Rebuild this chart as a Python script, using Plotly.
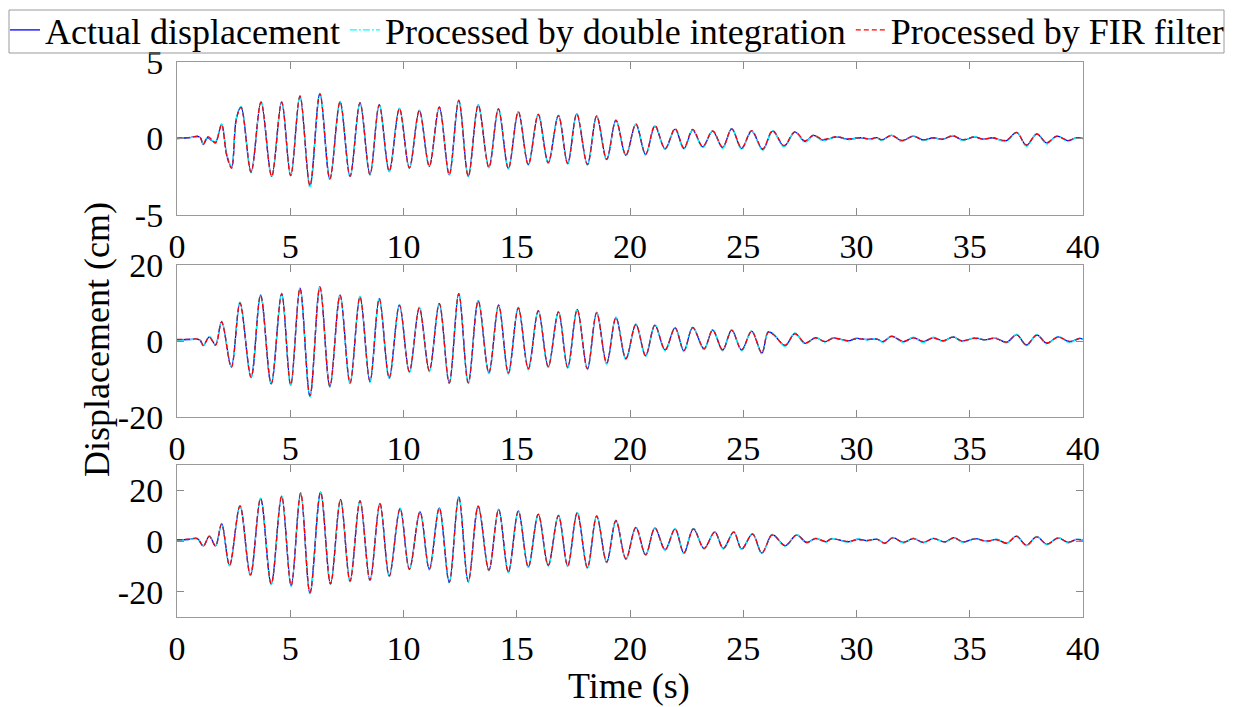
import plotly.graph_objects as go

# ---------------- data ----------------
t1 = [0, 0.5, 1.0, 1.16, 1.35, 1.55, 1.7, 1.97, 2.2, 2.41, 2.62, 2.83, 3.27, 3.71, 4.18, 4.62, 5.02, 5.43,
      5.87, 6.31, 6.75, 7.20, 7.64, 8.08, 8.52, 8.93, 9.37, 9.82, 10.26, 10.70, 11.14, 11.58, 12.02, 12.44,
      12.86, 13.30, 13.77, 14.19, 14.63, 15.07, 15.51, 15.95, 16.39, 16.84, 17.25, 17.65, 18.12, 18.53,
      18.97, 19.38, 19.82, 20.26, 20.69, 21.10, 21.55, 21.99, 22.38, 22.77, 23.21, 23.65, 24.09, 24.49,
      24.93, 25.37, 25.86, 26.30, 26.8, 27.28, 27.73, 28.1, 28.5, 29.12, 29.6, 30.2, 30.6, 30.9, 31.1,
      31.55, 32.0, 32.51, 32.95, 33.4, 33.8, 34.25, 34.7, 35.2, 35.6, 36.0, 36.6, 37.07, 37.5, 37.96,
      38.4, 38.84, 39.35, 39.7, 40]
d1_actual = [0.0, 0.05, 0.1, -0.4, 0.05, -0.15, -0.25, 0.92, -1.1, -1.86, 1.3, 2.06, -2.21, 2.39, -2.48, 2.39,
             -2.43, 2.78, -3.1, 2.94, -2.65, 2.41, -2.48, 2.34, -2.37, 2.21, -2.15, 1.97, -1.93, 1.84, -1.82,
             2.06, -2.37, 2.50, -2.48, 2.19, -1.89, 1.94, -1.97, 1.75, -1.71, 1.58, -1.6, 1.51, -1.64, 1.62,
             -1.71, 1.47, -1.38, 1.18, -1.1, 0.92, -1.05, 0.81, -0.68, 0.61, -0.66, 0.55, -0.55, 0.48, -0.6,
             0.64, -0.66, 0.48, -0.72, 0.48, -0.5, 0.42, -0.2, 0.2, -0.1, 0.1, -0.05, 0.05, -0.05, 0.05, -0.1,
             0.2, -0.15, 0.15, -0.1, 0.05, -0.05, 0.18, -0.1, 0.1, -0.05, 0.05, -0.15, 0.4, -0.45, 0.3, -0.3,
             0.15, -0.15, 0.05, 0.0]
d1_double = [0.0, 0.03, 0.08, -0.35, 0.1, -0.12, -0.2, 0.95, -1.05, -1.8, 1.35, 2.1, -2.25, 2.42, -2.52, 2.4,
             -2.45, 2.8, -3.2, 2.95, -2.7, 2.43, -2.5, 2.35, -2.4, 2.22, -2.18, 1.98, -1.96, 1.85, -1.85,
             2.07, -2.4, 2.52, -2.5, 2.2, -1.92, 1.95, -2.0, 1.76, -1.74, 1.6, -1.63, 1.52, -1.67, 1.63,
             -1.74, 1.48, -1.42, 1.2, -1.14, 0.93, -1.08, 0.82, -0.72, 0.62, -0.7, 0.56, -0.6, 0.5, -0.64,
             0.65, -0.7, 0.5, -0.78, 0.5, -0.55, 0.44, -0.25, 0.22, -0.14, 0.12, -0.08, 0.06, -0.08, 0.06, -0.14,
             0.22, -0.2, 0.17, -0.14, 0.06, -0.08, 0.2, -0.14, 0.12, -0.08, 0.06, -0.2, 0.42, -0.52, 0.32, -0.36,
             0.16, -0.2, 0.06, 0.0]
d1_fir = [0.02, 0.06, 0.12, -0.38, 0.12, -0.1, -0.3, 0.9, -1.15, -1.95, 1.25, 2.04, -2.2, 2.38, -2.46, 2.37,
          -2.42, 2.76, -3.08, 2.92, -2.63, 2.4, -2.46, 2.33, -2.35, 2.2, -2.13, 1.96, -1.92, 1.83, -1.8,
          2.05, -2.35, 2.48, -2.46, 2.18, -1.88, 1.93, -1.95, 1.74, -1.7, 1.57, -1.58, 1.5, -1.62, 1.61,
          -1.7, 1.46, -1.36, 1.2, -1.08, 0.95, -1.02, 0.85, -0.66, 0.64, -0.62, 0.6, -0.52, 0.5, -0.56,
          0.62, -0.62, 0.52, -0.68, 0.52, -0.46, 0.45, -0.15, 0.22, -0.06, 0.12, -0.03, 0.06, -0.03, 0.06, -0.08,
          0.2, -0.12, 0.14, -0.08, 0.05, -0.04, 0.16, -0.08, 0.1, -0.04, 0.05, -0.12, 0.38, -0.42, 0.28, -0.27,
          0.14, -0.12, 0.05, 0.02]

t2 = [0, 0.5, 1.0, 1.16, 1.43, 1.7, 1.97, 2.4, 2.78, 3.27, 3.69, 4.16, 4.62, 5.02, 5.43, 5.87, 6.31, 6.75,
      7.2, 7.64, 8.08, 8.52, 8.93, 9.37, 9.82, 10.26, 10.70, 11.14, 11.58, 12.02, 12.44, 12.86, 13.3,
      13.77, 14.2, 14.63, 15.07, 15.51, 15.95, 16.39, 16.84, 17.25, 17.67, 18.12, 18.53, 18.97, 19.38,
      19.82, 20.26, 20.69, 21.10, 21.55, 21.99, 22.38, 22.77, 23.27, 23.65, 24.09, 24.49, 24.93, 25.37,
      25.82, 26.1, 26.33, 26.85, 27.28, 27.73, 28.2, 28.6, 28.97, 29.27, 29.64, 30.0, 30.45, 30.9, 31.18,
      31.55, 32.07, 32.51, 32.95, 33.39, 33.83, 34.27, 34.64, 35.23, 35.67, 36.11, 36.63, 37.07, 37.5,
      37.96, 38.4, 38.9, 39.4, 39.85, 40]
d2_actual = [0.3, 0.4, 0.3, -1.2, 1.1, -1.0, 5.1, -6.8, 10.1, -9.6, 12.1, -11.3, 12.5, -11.6, 13.9, -14.5,
             14.3, -12.0, 12.1, -11.1, 11.7, -10.7, 11.2, -9.8, 9.5, -8.1, 8.8, -7.9, 9.9, -11.1, 12.5, -11.1,
             10.6, -8.4, 9.5, -8.5, 8.8, -7.4, 8.0, -6.8, 7.7, -7.0, 8.3, -7.4, 7.5, -5.9, 6.2, -4.7, 4.4,
             -3.9, 4.2, -2.4, 3.5, -2.6, 3.6, -2.1, 2.9, -2.4, 2.9, -2.4, 2.6, -3.2, 2.4, 1.8, -1.2, 2.0,
             -0.6, 0.9, -0.2, 0.8, 0.5, 0.0, 0.7, 0.4, 0.5, -0.2, 1.3, -0.2, 0.9, -0.2, 0.9, 0.0, 1.1, 0.0,
             0.8, 0.3, 0.8, -0.35, 1.7, -1.05, 1.6, -0.6, 1.1, -0.2, 0.7, 0.5]
d2_double = [0.2, 0.35, 0.25, -1.1, 1.2, -0.9, 5.2, -6.7, 10.2, -9.7, 12.2, -11.4, 12.6, -11.8, 14.0, -14.8,
             14.4, -12.2, 12.2, -11.3, 11.8, -10.9, 11.3, -10.0, 9.6, -8.3, 8.9, -8.1, 10.0, -11.3, 12.6, -11.3,
             10.7, -8.6, 9.6, -8.7, 8.9, -7.6, 8.1, -7.0, 7.8, -7.2, 8.4, -7.6, 7.6, -6.1, 6.3, -4.9, 4.5,
             -4.1, 4.3, -2.6, 3.6, -2.8, 3.7, -2.3, 3.0, -2.6, 3.0, -2.6, 2.7, -3.4, 2.5, 1.9, -1.4, 2.1,
             -0.8, 1.0, -0.4, 0.9, 0.5, -0.2, 0.8, 0.3, 0.6, -0.4, 1.4, -0.4, 1.0, -0.4, 1.0, -0.2, 1.2, -0.2,
             0.9, 0.2, 0.9, -0.5, 1.8, -1.3, 1.7, -0.8, 1.2, -0.4, 0.8, 0.5]
d2_fir = [0.4, 0.45, 0.35, -1.0, 1.0, -1.1, 5.0, -6.9, 10.0, -9.5, 12.0, -11.2, 12.4, -11.5, 13.8, -14.4,
          14.2, -11.9, 12.0, -11.0, 11.6, -10.6, 11.1, -9.7, 9.4, -8.0, 8.7, -7.8, 9.8, -11.0, 12.4, -11.0,
          10.5, -8.3, 9.4, -8.4, 8.7, -7.3, 7.9, -6.7, 7.6, -6.9, 8.2, -7.3, 7.4, -5.8, 6.1, -4.6, 4.3,
          -3.8, 4.1, -2.3, 3.4, -2.5, 3.5, -2.0, 2.8, -2.3, 2.8, -2.3, 2.5, -3.1, 2.3, 1.7, -1.1, 1.9,
          -0.5, 0.8, -0.1, 0.7, 0.5, 0.1, 0.6, 0.4, 0.5, -0.1, 1.2, -0.1, 0.8, -0.1, 0.8, 0.1, 1.0, 0.1,
          0.7, 0.3, 0.7, -0.3, 1.6, -1.0, 1.5, -0.5, 1.0, -0.1, 0.6, 0.5]

t3 = [0, 0.5, 0.9, 1.16, 1.43, 1.7, 1.97, 2.32, 2.78, 3.24, 3.69, 4.16, 4.62, 5.04, 5.46, 5.87, 6.34, 6.78,
      7.22, 7.64, 8.08, 8.52, 8.96, 9.37, 9.85, 10.26, 10.73, 11.14, 11.58, 12.02, 12.44, 12.86, 13.3,
      13.77, 14.2, 14.63, 15.07, 15.51, 15.95, 16.39, 16.84, 17.25, 17.67, 18.12, 18.53, 18.97, 19.38,
      19.82, 20.26, 20.69, 21.10, 21.55, 21.99, 22.38, 22.8, 23.27, 23.74, 24.12, 24.58, 24.93, 25.41,
      25.82, 26.25, 26.4, 26.85, 27.36, 27.8, 28.2, 28.65, 28.9, 29.64, 30.07, 30.45, 30.9, 31.25, 31.6,
      32.07, 32.51, 32.95, 33.4, 33.9, 34.3, 34.7, 35.23, 35.75, 36.19, 36.63, 37.07, 37.5, 37.96, 38.4,
      38.9, 39.35, 39.7, 40]
d3_actual = [0.4, 0.6, 0.9, -1.9, 1.9, -1.9, 6.8, -9.7, 13.9, -13.5, 16.8, -17.0, 17.7, -17.7, 19.0, -20.6,
             19.3, -17.0, 16.4, -15.9, 15.9, -15.5, 14.8, -13.9, 12.9, -11.2, 11.6, -11.2, 13.1, -16.4, 17.4,
             -16.1, 13.8, -11.6, 12.5, -12.3, 11.9, -10.3, 10.6, -9.7, 10.1, -9.9, 11.2, -10.6, 9.9, -8.4, 8.1,
             -7.1, 5.4, -5.5, 5.2, -3.5, 4.8, -4.8, 4.9, -3.0, 3.6, -3.0, 3.6, -3.2, 2.8, -4.8, 2.4, 2.0, -1.9,
             2.4, -0.6, 1.0, -0.3, 0.9, -0.3, 0.7, 0.1, 0.7, -0.9, 1.3, -0.6, 1.0, -0.6, 1.0, -0.4, 1.3, -0.4,
             0.9, -0.1, 0.6, -0.9, 1.9, -1.7, 1.7, -1.3, 1.2, -0.6, 0.6, 0.4]
d3_double = [0.3, 0.5, 0.8, -1.8, 2.0, -1.8, 6.9, -9.8, 14.0, -13.7, 16.9, -17.2, 17.8, -17.9, 19.1, -20.9,
             19.4, -17.2, 16.5, -16.1, 16.0, -15.7, 14.9, -14.1, 13.0, -11.4, 11.7, -11.4, 13.2, -16.6, 17.5,
             -16.3, 13.9, -11.8, 12.6, -12.5, 12.0, -10.5, 10.7, -9.9, 10.2, -10.1, 11.3, -10.8, 10.0, -8.6, 8.2,
             -7.3, 5.5, -5.7, 5.3, -3.7, 4.9, -5.0, 5.0, -3.2, 3.7, -3.2, 3.7, -3.4, 2.9, -5.0, 2.5, 2.1, -2.1,
             2.5, -0.8, 1.1, -0.5, 1.0, -0.5, 0.8, 0.0, 0.8, -1.1, 1.4, -0.8, 1.1, -0.8, 1.1, -0.6, 1.4, -0.6,
             1.0, -0.3, 0.7, -1.1, 2.0, -1.9, 1.8, -1.5, 1.3, -0.8, 0.7, 0.4]
d3_fir = [0.5, 0.7, 1.0, -2.0, 1.8, -2.0, 6.7, -9.6, 13.8, -13.4, 16.7, -16.9, 17.6, -17.6, 18.9, -20.4,
          19.2, -16.9, 16.3, -15.8, 15.8, -15.4, 14.7, -13.8, 12.8, -11.1, 11.5, -11.1, 13.0, -16.3, 17.3,
          -16.0, 13.7, -11.5, 12.4, -12.2, 11.8, -10.2, 10.5, -9.6, 10.0, -9.8, 11.1, -10.5, 9.8, -8.3, 8.0,
          -7.0, 5.3, -5.4, 5.1, -3.4, 4.7, -4.7, 4.8, -2.9, 3.5, -2.9, 3.5, -3.1, 2.7, -4.7, 2.3, 1.9, -1.8,
          2.3, -0.5, 0.9, -0.2, 0.8, -0.2, 0.6, 0.2, 0.6, -0.8, 1.2, -0.5, 0.9, -0.5, 0.9, -0.3, 1.2, -0.3,
          0.8, 0.0, 0.5, -0.8, 1.8, -1.6, 1.6, -1.2, 1.1, -0.5, 0.5, 0.4]

series_names = ["Actual displacement", "Processed by double integration", "Processed by FIR filter"]
x_ticks = [0, 5, 10, 15, 20, 25, 30, 35, 40]
y_ticks = [[-5, 0, 5], [-20, 0, 20], [-20, 0, 20]]
y_ticktext = [["-5", "0", "5"], ["-20", "0", "20"], ["-20", "0", "20"]]
y_ranges = [[-5, 5], [-20, 20], [-30, 30]]
x_title = "Time (s)"
y_title = "Displacement (cm)"

# ---------------- figure ----------------
W, H = 1233, 707
FONT = "Liberation Serif"
TICK_SIZE = 34
LABEL_SIZE = 36
colors = ["#0000FF", "#00FFFF", "#FF0000"]
dashes = ["solid", "7px,2px,2px,2px", "5px,3px"]

panels = [(t1, [d1_actual, d1_double, d1_fir]),
          (t2, [d2_actual, d2_double, d2_fir]),
          (t3, [d3_actual, d3_double, d3_fir])]

fig = go.Figure()
for p, (tt, ds) in enumerate(panels):
    xa = "x" if p == 0 else f"x{p+1}"
    ya = "y" if p == 0 else f"y{p+1}"
    for s, d in enumerate(ds):
        fig.add_trace(go.Scatter(
            x=tt, y=d, mode="lines", name=series_names[s],
            line=dict(color=colors[s], width=1.3, dash=dashes[s], shape="spline", smoothing=1.0),
            xaxis=xa, yaxis=ya, showlegend=(p == 0)))

px_left, px_right = 177, 1083
boxes = [(62, 215), (265, 417), (465, 617)]

layout = dict(
    width=W, height=H, margin=dict(l=0, r=0, t=0, b=0, pad=0, autoexpand=False),
    paper_bgcolor="white", plot_bgcolor="white",
    font=dict(family=FONT, size=TICK_SIZE, color="black"),
    showlegend=True,
    legend=dict(orientation="h", x=5 / W, xanchor="left", y=1.0, yanchor="top",
                font=dict(family=FONT, size=LABEL_SIZE, color="black"),
                borderwidth=0, bgcolor="rgba(0,0,0,0)",
                itemwidth=30, tracegroupgap=0),
)
for p, (top, bot) in enumerate(boxes):
    xk = "xaxis" if p == 0 else f"xaxis{p+1}"
    yk = "yaxis" if p == 0 else f"yaxis{p+1}"
    ya = "y" if p == 0 else f"y{p+1}"
    xa = "x" if p == 0 else f"x{p+1}"
    layout[xk] = dict(domain=[px_left / W, px_right / W], anchor=ya, range=[0, 40],
                      tickvals=x_ticks, ticktext=[str(v) for v in x_ticks],
                      ticks="inside", ticklen=7, tickcolor="#8a8a8a", tickwidth=1,
                      showline=True, linecolor="#9a9a9a", linewidth=1, mirror="ticks",
                      showgrid=False, zeroline=False, automargin=False, ticklabelstandoff=1,
                      tickfont=dict(family=FONT, size=TICK_SIZE, color="black"))
    layout[yk] = dict(domain=[1 - bot / H, 1 - top / H], anchor=xa, range=y_ranges[p],
                      tickvals=y_ticks[p], ticktext=y_ticktext[p],
                      ticks="inside", ticklen=7, tickcolor="#8a8a8a", tickwidth=1,
                      showline=True, linecolor="#9a9a9a", linewidth=1, mirror="ticks",
                      showgrid=False, zeroline=False, automargin=False, ticklabelstandoff=6,
                      tickfont=dict(family=FONT, size=TICK_SIZE, color="black"))
fig.update_layout(**layout)

# legend frame (as in the reference: a thin grey box round the one-line legend)
fig.add_shape(type="rect", xref="paper", yref="paper",
              x0=9 / W, x1=1224 / W, y0=1 - 53 / H, y1=1 - 10 / H,
              line=dict(color="#9a9a9a", width=1), fillcolor="rgba(0,0,0,0)", layer="above")

fig.add_annotation(text=y_title, xref="paper", yref="paper", x=97 / W, y=1 - 340 / H,
                   xanchor="center", yanchor="middle", textangle=-90, showarrow=False,
                   font=dict(family=FONT, size=LABEL_SIZE, color="black"))
fig.add_annotation(text=x_title, xref="paper", yref="paper", x=629 / W, y=1 - 686 / H,
                   xanchor="center", yanchor="middle", showarrow=False,
                   font=dict(family=FONT, size=LABEL_SIZE, color="black"))

fig.write_html("out.html")
